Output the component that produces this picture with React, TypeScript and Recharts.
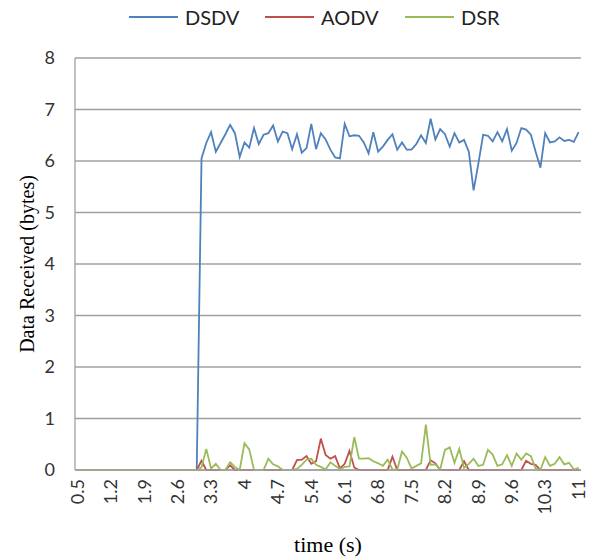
import React from "react";
import { LineChart, Line, XAxis, YAxis, CartesianGrid, Legend, Label } from "recharts";

// time categories 0.5 .. 11 s, step 0.1
const times: string[] = Array.from({ length: 106 }, (_, i) => String(Number((0.5 + 0.1 * i).toFixed(1))));

const yTicks = [0, 1, 2, 3, 4, 5, 6, 7, 8];

const dsdv = [
  0, 0, 0, 0, 0, 0, 0, 0, 0, 0, 0, 0, 0, 0, 0, 0, 0, 0, 0, 0, 0, 0, 0, 0, 0, 0,
  6.05, 6.35, 6.56, 6.18, 6.35, 6.52, 6.7, 6.54, 6.08, 6.36, 6.26, 6.64, 6.33, 6.51, 6.54, 6.69,
  6.38, 6.57, 6.54, 6.23, 6.52, 6.16, 6.25, 6.72, 6.23, 6.54,
  6.42, 6.22, 6.07, 6.05, 6.72, 6.48, 6.5, 6.49, 6.36, 6.15, 6.56, 6.18, 6.28, 6.41, 6.52, 6.22,
  6.36, 6.22, 6.22, 6.33, 6.5, 6.35, 6.82, 6.42, 6.62, 6.52, 6.28,
  6.54, 6.36, 6.41, 6.18, 5.43, 5.95, 6.51, 6.49, 6.38, 6.56, 6.38, 6.62, 6.2, 6.35, 6.64, 6.61,
  6.51, 6.18, 5.87, 6.54, 6.36, 6.38, 6.46, 6.39, 6.41, 6.37, 6.56,
];

const aodv = [
  0, 0, 0, 0, 0, 0, 0, 0, 0, 0, 0, 0, 0, 0, 0, 0, 0, 0, 0, 0, 0, 0, 0, 0, 0, 0,
  0.18, 0, 0, 0, 0, 0, 0.09, 0, 0, 0, 0, 0, 0, 0, 0, 0, 0, 0, 0, 0,
  0.19, 0.2, 0.27, 0.12, 0.17, 0.61, 0.29, 0.22, 0.27, 0.03, 0.12, 0.37, 0.05,
  0, 0, 0, 0, 0, 0, 0, 0.26, 0, 0, 0, 0, 0, 0, 0, 0.19, 0.13, 0, 0, 0, 0, 0, 0.17,
  0, 0, 0, 0, 0, 0, 0, 0, 0, 0, 0, 0, 0.18, 0.12, 0.1, 0, 0, 0, 0, 0, 0, 0, 0, 0,
];

const dsr = [
  0, 0, 0, 0, 0, 0, 0, 0, 0, 0, 0, 0, 0, 0, 0, 0, 0, 0, 0, 0, 0, 0, 0, 0, 0, 0,
  0.05, 0.41, 0.03, 0.12, 0, 0, 0.15, 0.06, 0, 0.52, 0.4, 0, 0, 0, 0.22, 0.11, 0.07, 0, 0, 0,
  0.02, 0.1, 0.2, 0.22, 0.1, 0.06, 0.01, 0.15, 0.08, 0.02, 0.06, 0.07, 0.64, 0.22, 0.22,
  0.23, 0.17, 0.13, 0.08, 0.2, 0.01, 0, 0.36, 0.24, 0.03, 0.08, 0.13, 0.88, 0.1, 0.11,
  0.01, 0.39, 0.44, 0.14, 0.41, 0.04, 0.12, 0.22, 0.08, 0.1, 0.39, 0.3, 0.08, 0.11, 0.29,
  0.08, 0.32, 0.2, 0.32, 0.27, 0.03, 0, 0.25, 0.08, 0.12, 0.25, 0.11, 0.14, 0.01, 0.04,
];

const seriesNames = ["DSDV", "AODV", "DSR"];
const colors = ["#4f81bd", "#c0504d", "#9bbb59"];

const data = times.map((t, i) => ({ t, DSDV: dsdv[i], AODV: aodv[i], DSR: dsr[i] }));

const SANS = "Lato, 'Open Sans', sans-serif";
const SERIF = "'Liberation Serif', 'Times New Roman', serif";

const XTick = (props: any) => {
  const { x, y, payload } = props;
  return (
    <g transform={`translate(${x},${y})`}>
      <text transform="rotate(-90)" x={-1} y={0} dy="0.35em" textAnchor="end" fill="#333" fontSize={18} fontFamily={SANS}>
        {payload.value}
      </text>
    </g>
  );
};

const LegendContent = () => {
  const lefts = [129, 265, 405];
  return (
    <div style={{ position: "relative", width: 592, height: 34 }}>
      {seriesNames.map((n, i) => (
        <div key={n} style={{ position: "absolute", left: lefts[i], top: 0, height: 34, display: "flex", alignItems: "center" }}>
          <div style={{ width: 49, height: 2, background: colors[i] }} />
          <span style={{ marginLeft: 7, fontFamily: SANS, fontSize: 20, color: "#222" }}>{n}</span>
        </div>
      ))}
    </div>
  );
};

export default function App() {
  return (
    <div style={{ position: "absolute", left: 0, top: 0, width: 592, height: 557, background: "#fff" }}>
      <LineChart width={592} height={557} data={data} margin={{ top: 24, right: 11, bottom: 0, left: 0 }}>
        <Legend verticalAlign="top" height={34} content={<LegendContent />} wrapperStyle={{ top: 0, left: 0 }} />
        <CartesianGrid vertical={false} stroke="#a0a0a0" strokeWidth={1.3} />
        <XAxis
          dataKey="t"
          interval={6}
          tick={<XTick />}
          tickLine={false}
          tickMargin={2}
          axisLine={{ stroke: "#a0a0a0", strokeWidth: 1.3 }}
          padding={{ left: 2.4, right: 2.4 }}
          height={87}
        >
          <Label value="time (s)" position="insideBottom" offset={5} fill="#000" fontSize={22} fontFamily={SERIF} />
        </XAxis>
        <YAxis
          domain={[0, 8]}
          ticks={yTicks}
          tickLine={false}
          tickMargin={14}
          tick={{ fill: "#333", fontSize: 18, fontFamily: SANS }}
          axisLine={{ stroke: "#a0a0a0", strokeWidth: 1.3 }}
          width={75}
        >
          <Label value="Data Received (bytes)" angle={-90} position="insideLeft" offset={27} style={{ textAnchor: "middle" }} fill="#000" fontSize={20} fontFamily={SERIF} />
        </YAxis>
        {seriesNames.map((n, i) => (
          <Line key={n} type="linear" dataKey={n} stroke={colors[i]} strokeWidth={1.8} dot={false} isAnimationActive={false} />
        ))}
      </LineChart>
    </div>
  );
}
